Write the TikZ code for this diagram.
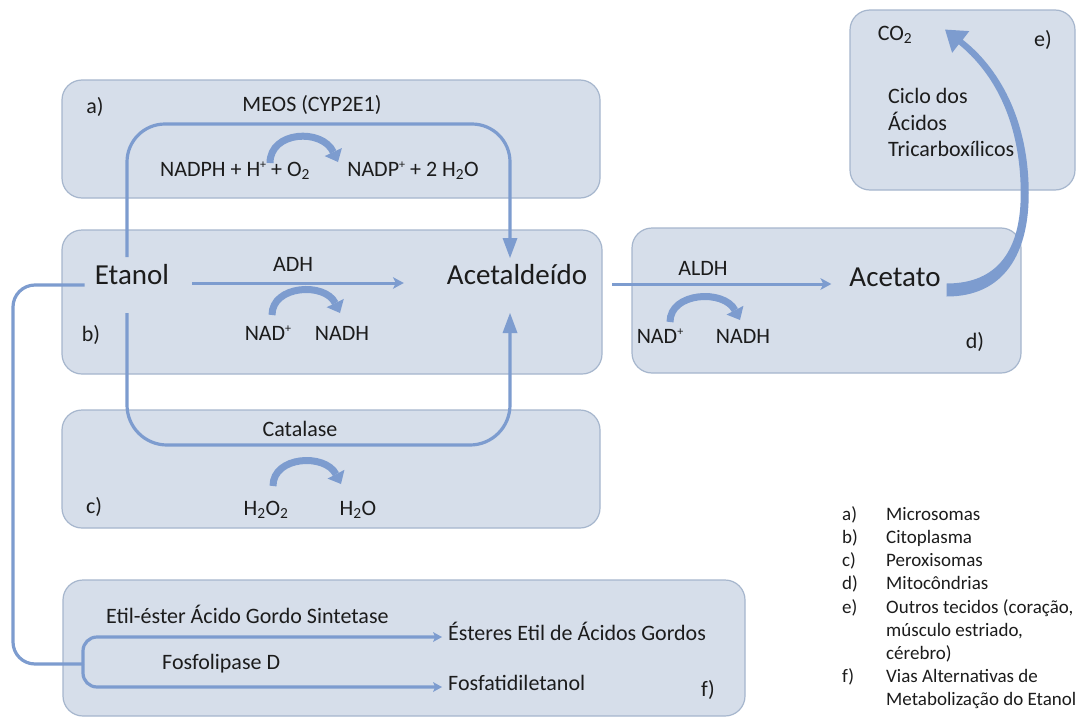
\documentclass[tikz,border=0pt]{standalone}
\usepackage{fontspec}
\setmainfont{Carlito}
\usetikzlibrary{arrows.meta,calc}
\definecolor{boxfill}{HTML}{D6DEEA}
\definecolor{boxline}{HTML}{A6B6CD}
\definecolor{flow}{HTML}{7D9CCF}
\definecolor{ink}{HTML}{1C1C1C}
% small raised plus sign for ionic charges
\newcommand{\ionplus}{\raisebox{0.34em}{\fontsize{12}{12}\selectfont +}}

\begin{document}
\begin{tikzpicture}[x=1pt,y=-1pt,
  region/.style={draw=boxline, fill=boxfill, line width=1.2pt, rounded corners=20pt},
  big/.style={inner sep=0pt, text=ink, font=\fontsize{29}{34}\selectfont, text height=0.64em, text depth=0pt},
  txt/.style={inner sep=0pt, text=ink, font=\fontsize{22}{26}\selectfont, text height=0.64em, text depth=0pt},
  leg/.style={inner sep=0pt, text=ink, font=\fontsize{19}{23}\selectfont, anchor=west, text height=0.64em, text depth=0pt},
  reaction/.style={draw=flow, line width=3pt, -{Stealth[length=11pt,width=12pt,inset=3pt,line width=0pt]}},
  bypass/.style={draw=flow, line width=3.2pt, -{Triangle[length=20pt,width=15pt,line width=0pt]}},
  feeder/.style={draw=flow, line width=3.2pt},
  branch/.style={draw=flow, line width=3.2pt, rounded corners=14pt, -{Stealth[length=9pt,width=10pt,inset=2pt,line width=0pt]}},
  cofactor/.style={draw=flow, line width=7pt, -{Triangle[length=11pt,width=19pt,line width=0pt]}}
]
\fill[white] (0,0) rectangle (1087,720);
\useasboundingbox (0,0) rectangle (1087,720);

% compartments
\draw[region] (62,80) rectangle (600,198);
\draw[region] (62,230) rectangle (602,374);
\draw[region] (62,410) rectangle (600,528);
\draw[region] (632,228) rectangle (1021,373);
\draw[region] (850,10) rectangle (1075,190);
\draw[region] (63,580) rectangle (745,716);

% main metabolites
\node[big] (eta) at (132,281) {Etanol};
\node[big] (acd) at (517,281) {Acetaldeído};
\node[big] (act) at (895,283) {Acetato};

% a) microsomes
\node[txt] (la) at (95,110) {a)};
\node[txt] (meos) at (312,108) {MEOS (CYP2E1)};
\node[txt] (nadph) at (235,173) {NADPH + H\ionplus{} + O\textsubscript{2}};
\node[txt] (nadp) at (413,173) {NADP\ionplus{} + 2 H\textsubscript{2}O};

% b) cytoplasm
\node[txt] (lb) at (91,338) {b)};
\node[txt] (adh) at (293,268) {ADH};
\node[txt] (nadb) at (268,337) {NAD\ionplus};
\node[txt] (nadhb) at (342,337) {NADH};

% c) peroxisomes
\node[txt] (lc) at (94,510) {c)};
\node[txt] (cat) at (300,433) {Catalase};
\node[txt] (hoo) at (266,512) {H\textsubscript{2}O\textsubscript{2}};
\node[txt] (ho) at (358,512) {H\textsubscript{2}O};

% d) mitochondria
\node[txt] (aldh) at (703,272) {ALDH};
\node[txt] (nadd) at (660,340) {NAD\ionplus};
\node[txt] (nadhd) at (743,340) {NADH};
\node[txt] (ld) at (975,345) {d)};

% e) other tissues
\node[txt] (co2) at (895,37) {CO\textsubscript{2}};
\node[txt] (le) at (1043,43) {e)};
\node[txt, anchor=west] (cic1) at (888,100) {Ciclo dos};
\node[txt, anchor=west] (cic2) at (888,127) {Ácidos};
\node[txt, anchor=west] (cic3) at (888,153) {Tricarboxílicos};

% f) alternative pathways
\node[txt, anchor=west] (faees) at (106,620) {Etil-éster Ácido Gordo Sintetase};
\node[txt, anchor=west] (pld) at (162,666) {Fosfolipase D};
\node[txt, anchor=west] (faee) at (448,637) {Ésteres Etil de Ácidos Gordos};
\node[txt, anchor=west] (peth) at (448,687) {Fosfatidiletanol};
\node[txt] (lf) at (708,693) {f)};

% main reactions
\draw[reaction] ($(eta.east)+(23,2)$) -- ($(acd.west)+(-43,2)$);
\draw[reaction] ($(acd.east)+(25,3)$) -- ($(act.west)+(-18,1)$);

% MEOS and catalase routes
\draw[bypass, rounded corners=38pt] ($(eta.center)+(-5,-24)$) -- (127,124) -- (510,124) -- ($(acd.center)+(-7,-23)$);
\draw[bypass, rounded corners=40pt] ($(eta.center)+(-5,32)$) -- (127,445) -- (510,445) -- ($(acd.center)+(-7,32)$);

% route to the non-oxidative pathways
\coordinate (jn) at (83,664);
\draw[feeder, rounded corners=22pt] ($(eta.west)+(-10,4)$) -- (13,285) -- (13,664) -- (jn);
\draw[branch] (jn) -- (83,637) -- ($(faee.west)+(-6,0)$);
\draw[branch] (jn) -- (83,687) -- ($(peth.west)+(-6,0)$);

% cofactor arcs
\draw[cofactor] ($(nadph.center)+(35,-10)$) .. controls ($(nadph.center)+(35,-42)$) and ($(nadp.center)+(-91,-45)$) .. ($(nadp.center)+(-75,-11)$);
\draw[cofactor] ($(nadb.center)+(4,-22)$) .. controls ($(nadb.center)+(4,-52)$) and ($(nadhb.center)+(-17,-55)$) .. ($(nadhb.center)+(-2,-24)$);
\draw[cofactor] ($(hoo.center)+(7,-26)$) .. controls ($(hoo.center)+(7,-56)$) and ($(ho.center)+(-33,-59)$) .. ($(ho.center)+(-17,-28)$);
\draw[cofactor] ($(nadd.center)+(10,-18)$) .. controls ($(nadd.center)+(10,-48)$) and ($(nadhd.center)+(-19,-51)$) .. ($(nadhd.center)+(-3,-20)$);

% tapered arrow from acetate to CO2
\fill[flow, shift={($(act.east)+(6,7)$)}]
  (0,6.5) .. controls (57,6.5) and (83,-36) .. (82,-100)
  .. controls (81,-173) and (51,-223) .. (16,-250.3)
  -- (22.6,-258.9) -- (-1.6,-260.4) -- (5.4,-237.1) -- (12,-245.7)
  .. controls (46,-218) and (73,-171) .. (74,-100)
  .. controls (75,-40) and (51,-6.5) .. (0,-6.5) -- cycle;

% legend
\node[leg] (ka) at (842,517.5) {a)}; \node[leg] (ta) at (886,517.5) {Microsomas};
\node[leg] (kb) at (842,540.6) {b)}; \node[leg] (tb) at (886,540.6) {Citoplasma};
\node[leg] (kc) at (842,563.6) {c)}; \node[leg] (tc) at (886,563.6) {Peroxisomas};
\node[leg] (kd) at (842,586.7) {d)}; \node[leg] (td) at (886,586.7) {Mitocôndrias};
\node[leg] (ke) at (842,609.8) {e)}; \node[leg] (te) at (886,609.8) {Outros tecidos (coração,};
\node[leg] (te2) at (886,632.8) {músculo estriado,};
\node[leg] (te3) at (886,655.9) {cérebro)};
\node[leg] (kf) at (842,679) {f)};   \node[leg] (tf) at (886,679) {Vias Alternativas de};
\node[leg] (tf2) at (886,702) {Metabolização do Etanol};
\end{tikzpicture}
\end{document}
